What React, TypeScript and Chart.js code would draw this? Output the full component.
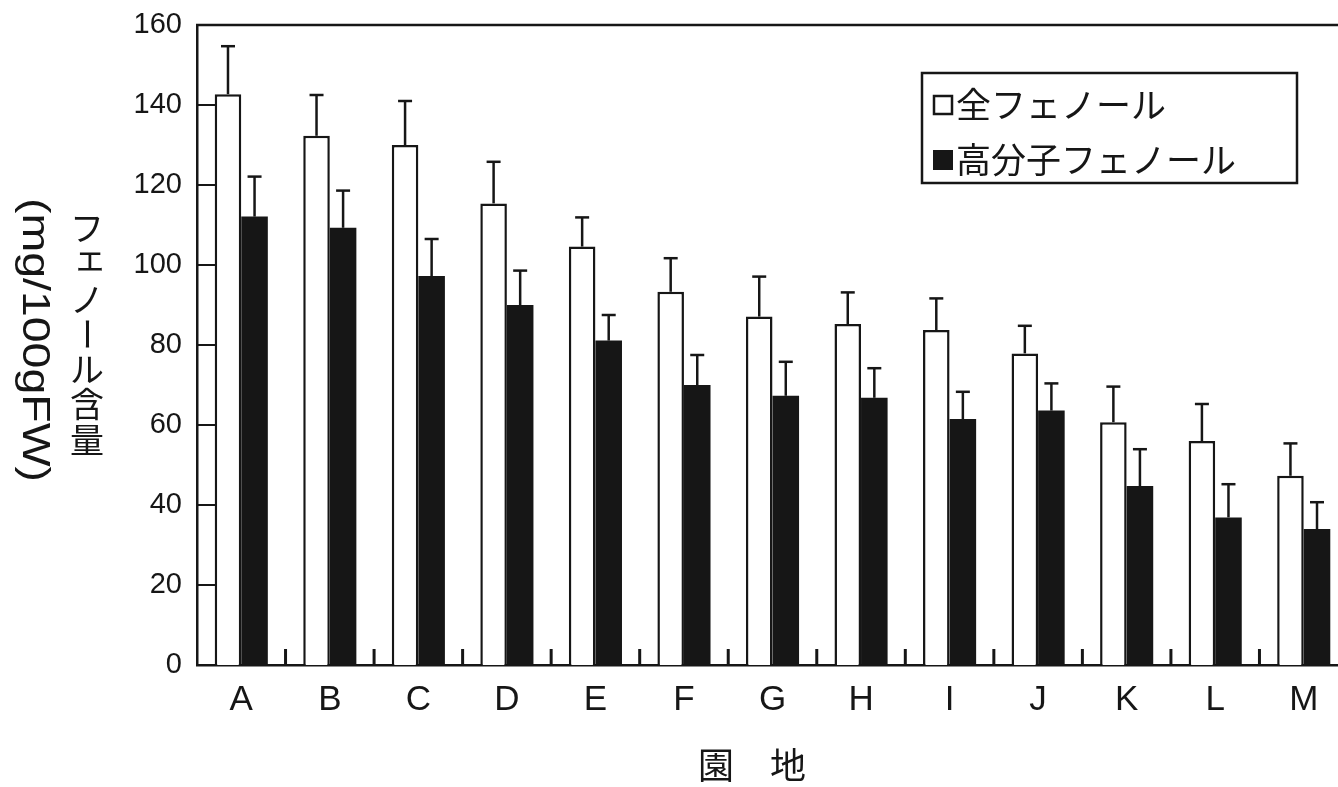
import React, { useEffect, useRef } from "react";
import { Chart, registerables } from "chart.js";

Chart.register(...registerables);

// ---- data ----
const categories = ["A", "B", "C", "D", "E", "F", "G", "H", "I", "J", "K", "L", "M"];
const totalPhenol = [142.7, 132.3, 130, 115.4, 104.6, 93.3, 87.1, 85.25, 83.75, 77.9, 60.7, 56, 47.3];
const totalPhenolSD = [12, 10.2, 11, 10.4, 7.3, 8.4, 10, 7.9, 7.9, 6.9, 8.9, 9.25, 8.1];
const hmwPhenol = [112.1, 109.3, 97.25, 90, 81.1, 70, 67.3, 66.8, 61.5, 63.6, 44.75, 36.9, 34];
const hmwPhenolSD = [10, 9.3, 9.25, 8.6, 6.4, 7.5, 8.5, 7.4, 6.8, 6.8, 9.2, 8.3, 6.7];
const yTicks = [0, 20, 40, 60, 80, 100, 120, 140, 160];
const seriesLabels = ["全フェノール", "高分子フェノール"];
const yTitleMain = "フェノール含量";
const yTitleUnit = "(mg/100gFW)";
const xTitle = "園　地";

const INK = "#161616";
const errorSets = [totalPhenolSD, hmwPhenolSD];

function line(ctx: CanvasRenderingContext2D, x1: number, y1: number, x2: number, y2: number) {
  ctx.beginPath();
  ctx.moveTo(x1, y1);
  ctx.lineTo(x2, y2);
  ctx.stroke();
}

const decorPlugin = {
  id: "decor",
  afterDatasetsDraw(chart: any) {
    const { ctx, chartArea: a, scales } = chart;
    const xs = scales.x;
    const ys = scales.y;
    ctx.save();
    ctx.strokeStyle = INK;
    ctx.lineCap = "butt";
    // error bars (upper only, with cap)
    chart.data.datasets.forEach((ds: any, d: number) => {
      const meta = chart.getDatasetMeta(d);
      meta.data.forEach((bar: any, i: number) => {
        const v = ds.data[i] as number;
        const top = ys.getPixelForValue(v + errorSets[d][i]);
        ctx.lineWidth = 2.5;
        line(ctx, bar.x, bar.y, bar.x, top);
        line(ctx, bar.x - 7, top, bar.x + 7, top);
      });
    });
    // inner y tick marks
    ctx.lineWidth = 2;
    yTicks.forEach((v) => {
      if (v <= yTicks[0] || v >= yTicks[yTicks.length - 1]) return;
      const py = ys.getPixelForValue(v);
      line(ctx, a.left, py, a.left + 18, py);
    });
    // inner x tick marks at category boundaries
    ctx.lineWidth = 3;
    for (let i = 1; i < categories.length; i++) {
      const px = (xs.getPixelForValue(i - 1) + xs.getPixelForValue(i)) / 2;
      line(ctx, px, a.bottom, px, a.bottom - 16);
    }
    // frame top & right
    ctx.lineWidth = 2.5;
    line(ctx, a.left - 1, a.top, a.right, a.top);
    line(ctx, a.right, a.top, a.right, a.bottom);
    ctx.restore();
  },
  afterDraw(chart: any) {
    const { ctx, chartArea: a } = chart;
    ctx.save();
    ctx.fillStyle = INK;
    ctx.strokeStyle = INK;

    // y title: vertical Japanese
    ctx.font = "34px 'Noto Sans CJK JP'";
    ctx.textAlign = "center";
    ctx.textBaseline = "middle";
    const chars = Array.from(yTitleMain);
    const cx = a.left - 110;
    const startY = a.top + 203;
    chars.forEach((ch, k) => {
      const yy = startY + k * 35.3;
      if (ch === "ー") {
        ctx.save();
        ctx.translate(cx, yy);
        ctx.rotate(Math.PI / 2);
        ctx.fillText(ch, 0, 0);
        ctx.restore();
      } else if (ch === "ェ") {
        ctx.fillText(ch, cx + 3, yy - 6);
      } else {
        ctx.fillText(ch, cx, yy);
      }
    });

    // y title: unit, rotated clockwise
    ctx.save();
    ctx.font = "38px 'Liberation Sans'";
    ctx.translate(a.left - 164, a.top + 315);
    ctx.rotate(Math.PI / 2);
    const w = ctx.measureText(yTitleUnit).width;
    ctx.scale(284 / w, 1);
    ctx.fillText(yTitleUnit, 0, 0);
    ctx.restore();

    // x title
    ctx.font = "36px 'Noto Sans CJK JP'";
    ctx.textAlign = "center";
    ctx.textBaseline = "middle";
    ctx.fillText(xTitle, a.left + 555, a.bottom + 100);

    // legend box
    const bl = a.left + 725;
    const bt = a.top + 48;
    const bw = 375;
    const bh = 110;
    ctx.fillStyle = "#ffffff";
    ctx.fillRect(bl, bt, bw, bh);
    ctx.lineWidth = 2.5;
    ctx.strokeRect(bl, bt, bw, bh);
    ctx.font = "35px 'Noto Sans CJK JP'";
    ctx.textAlign = "left";
    ctx.textBaseline = "middle";
    chart.data.datasets.forEach((ds: any, d: number) => {
      const cy = bt + 32 + d * 55;
      const mx = bl + 11;
      if (d === 0) {
        ctx.fillStyle = "#ffffff";
        ctx.fillRect(mx, cy - 10, 20, 20);
        ctx.lineWidth = 2.5;
        ctx.strokeRect(mx + 1, cy - 9, 18, 18);
      } else {
        ctx.fillStyle = INK;
        ctx.fillRect(mx, cy - 10, 20, 20);
      }
      ctx.fillStyle = INK;
      ctx.fillText(seriesLabels[d], mx + 23, cy);
    });
    ctx.restore();
  },
};

export default function App() {
  const ref = useRef<HTMLCanvasElement | null>(null);
  useEffect(() => {
    if (!ref.current) return;
    const chart = new Chart(ref.current, {
      type: "bar",
      data: {
        labels: categories,
        datasets: [
          {
            label: seriesLabels[0],
            data: totalPhenol,
            backgroundColor: "#ffffff",
            borderColor: INK,
            borderWidth: 2.5,
            categoryPercentage: 0.6,
            barPercentage: 1.0,
          },
          {
            label: seriesLabels[1],
            data: hmwPhenol,
            backgroundColor: INK,
            borderColor: INK,
            borderWidth: 0,
            categoryPercentage: 0.6,
            barPercentage: 1.0,
          },
        ],
      },
      options: {
        responsive: false,
        animation: false,
        devicePixelRatio: 1,
        layout: { padding: { left: 0, top: 25, right: 22, bottom: 0 } },
        plugins: {
          legend: { display: false },
          tooltip: { enabled: false },
          title: { display: false },
        },
        scales: {
          x: {
            type: "category",
            offset: true,
            grid: { display: false, drawTicks: false },
            border: { display: true, color: INK, width: 2.5 },
            ticks: {
              color: INK,
              font: { family: "'Liberation Sans', Arial, sans-serif", size: 35 },
              padding: 14,
              maxRotation: 0,
              autoSkip: false,
            },
            afterFit: (s: any) => {
              s.height = 122;
              s.paddingLeft = 0;
              s.paddingRight = 0;
            },
          },
          y: {
            type: "linear",
            min: yTicks[0],
            max: yTicks[yTicks.length - 1],
            grid: { display: false, drawTicks: false },
            border: { display: true, color: INK, width: 2.5 },
            ticks: {
              stepSize: 20,
              color: INK,
              font: { family: "'Liberation Sans', Arial, sans-serif", size: 29 },
              padding: 15,
            },
            afterFit: (s: any) => {
              s.width = 197;
              s.paddingTop = 0;
              s.paddingBottom = 0;
            },
          },
        },
      },
      plugins: [decorPlugin],
    } as any);
    return () => chart.destroy();
  }, []);

  return (
    <div
      style={{
        position: "absolute",
        left: 0,
        top: 0,
        width: 1338,
        height: 787,
        overflow: "hidden",
        background: "#ffffff",
      }}
    >
      <canvas ref={ref} width={1370} height={787} style={{ width: 1370, height: 787, display: "block" }} />
    </div>
  );
}
